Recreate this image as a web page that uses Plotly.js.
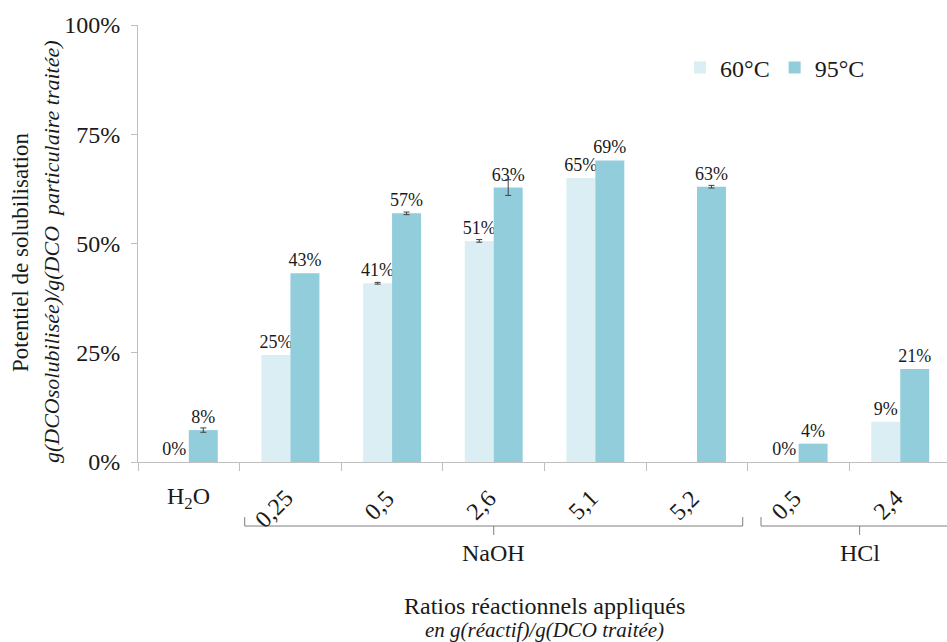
<!DOCTYPE html>
<html>
<head>
<meta charset="utf-8">
<script src="https://cdn.plot.ly/plotly-3.0.1.min.js"></script>
<style>html,body{margin:0;padding:0;background:#fff;}#chart{width:947px;height:642px;}</style>
</head>
<body>
<div id="chart"></div>
<script>
const categories = ['H2O', 'NaOH 0,25', 'NaOH 0,5', 'NaOH 2,6', 'NaOH 5,1', 'NaOH 5,2', 'HCl 0,5', 'HCl 2,4'];
const tickLabels = ['H<sub>2</sub>O', '0,25', '0,5', '2,6', '5,1', '5,2', '0,5', '2,4'];
const series60 = [0, 0.245, 0.409, 0.506, 0.65, null, 0, 0.092];
const series95 = [0.073, 0.432, 0.569, 0.628, 0.69, 0.63, 0.042, 0.213];
const err60 = [NaN, NaN, 0.002, 0.003, NaN, NaN, NaN, NaN];
const err95 = [0.005, NaN, 0.003, 0.018, NaN, 0.003, NaN, NaN];
const labels60 = ['0%', '25%', '41%', '51%', '65%', '', '0%', '9%'];
const labels95 = ['8%', '43%', '57%', '63%', '69%', '63%', '4%', '21%'];
const groups = [
  {name: 'NaOH', from: 0.55, to: 5.45, mid: 3.0},
  {name: 'HCl', from: 5.63, to: 7.6, mid: 6.6}
];

const serif = 'Liberation Serif';
const txt = '#1a1a1a';

const traces = [
  {
    type: 'bar', name: '60°C', x: categories, y: series60,
    marker: {color: '#DAEEF3'},
    text: labels60, textposition: 'outside', constraintext: 'none', cliponaxis: false,
    textfont: {family: serif, size: 18, color: txt},
    error_y: {type: 'data', array: err60, visible: true, color: '#404040', thickness: 1, width: 3},
    hoverinfo: 'skip'
  },
  {
    type: 'bar', name: '95°C', x: categories, y: series95,
    marker: {color: '#92CDDC'},
    text: labels95, textposition: 'outside', constraintext: 'none', cliponaxis: false,
    textfont: {family: serif, size: 18, color: txt},
    error_y: {type: 'data', array: err95, visible: true, color: '#404040', thickness: 1, width: 3},
    hoverinfo: 'skip'
  }
];

const annotations = [];
categories.forEach((c, i) => {
  if (i === 0) {
    annotations.push({x: c, xref: 'x', y: -0.083, yref: 'paper', text: tickLabels[i], showarrow: false,
      xanchor: 'center', yanchor: 'middle', font: {family: serif, size: 24, color: txt}});
  } else {
    annotations.push({x: c, xref: 'x', y: -0.046, yref: 'paper', text: tickLabels[i], showarrow: false,
      textangle: -45, xanchor: 'right', yanchor: 'top', xshift: 10, font: {family: serif, size: 24, color: txt}});
  }
});
groups.forEach(g => {
  annotations.push({x: g.mid, xref: 'x', y: -0.208, yref: 'paper', text: g.name, showarrow: false,
    xanchor: 'center', yanchor: 'middle', font: {family: serif, size: 24, color: txt}});
});
annotations.push({x: 0.503, xref: 'paper', y: -0.33, yref: 'paper', text: 'Ratios réactionnels appliqués',
  showarrow: false, xanchor: 'center', yanchor: 'middle', font: {family: serif, size: 24, color: txt}});
annotations.push({x: 0.503, xref: 'paper', y: -0.384, yref: 'paper', text: '<i>en g(réactif)/g(DCO traitée)</i>',
  showarrow: false, xanchor: 'center', yanchor: 'middle', font: {family: serif, size: 21, color: txt}});
annotations.push({x: -0.1459, xref: 'paper', y: 0.4805, yref: 'paper', text: 'Potentiel de solubilisation',
  showarrow: false, textangle: -90, xanchor: 'center', yanchor: 'middle', font: {family: serif, size: 23, color: txt}});
annotations.push({x: -0.1075, xref: 'paper', y: 0.4805, yref: 'paper', text: '<i>g(DCOsolubilisée)/g(DCO  particulaire traitée)</i>',
  showarrow: false, textangle: -90, xanchor: 'center', yanchor: 'middle', font: {family: serif, size: 22, color: txt}});

const shapes = [];
const bl = {color: '#7f7f7f', width: 1};
groups.forEach(g => {
  shapes.push({type: 'line', xref: 'x', yref: 'paper', x0: g.from, x1: g.to, y0: -0.1465, y1: -0.1465, line: bl});
  shapes.push({type: 'line', xref: 'x', yref: 'paper', x0: g.from, x1: g.from, y0: -0.1465, y1: -0.126, line: bl});
  shapes.push({type: 'line', xref: 'x', yref: 'paper', x0: g.to, x1: g.to, y0: -0.1465, y1: -0.126, line: bl});
  shapes.push({type: 'line', xref: 'x', yref: 'paper', x0: g.mid, x1: g.mid, y0: -0.1465, y1: -0.167, line: bl});
});

const layout = {
  width: 947, height: 642,
  margin: {l: 138, r: 0, t: 25, b: 180},
  paper_bgcolor: '#fff', plot_bgcolor: '#fff',
  barmode: 'group', bargap: 0.43, bargroupgap: 0,
  showlegend: true,
  legend: {orientation: 'h', x: 0.67, y: 0.902, xanchor: 'left', yanchor: 'middle',
    font: {family: serif, size: 24, color: txt}, itemwidth: 30, bgcolor: 'rgba(0,0,0,0)'},
  xaxis: {
    type: 'category', range: [-0.5, 7.46], showticklabels: false,
    ticks: 'outside', tickson: 'boundaries', ticklen: 8, tickcolor: '#bfbfbf',
    showline: true, linecolor: '#bfbfbf', linewidth: 1, showgrid: false, zeroline: false, fixedrange: true
  },
  yaxis: {
    range: [0, 1], dtick: 0.25, tickformat: '.0%',
    ticks: 'outside', ticklen: 6, tickcolor: '#bfbfbf', ticklabelstandoff: 6,
    showline: true, linecolor: '#bfbfbf', linewidth: 1, showgrid: false, zeroline: false,
    tickfont: {family: serif, size: 24, color: txt}, fixedrange: true
  },
  annotations: annotations,
  shapes: shapes
};

Plotly.newPlot('chart', traces, layout, {staticPlot: true, displayModeBar: false});
</script>
</body>
</html>
